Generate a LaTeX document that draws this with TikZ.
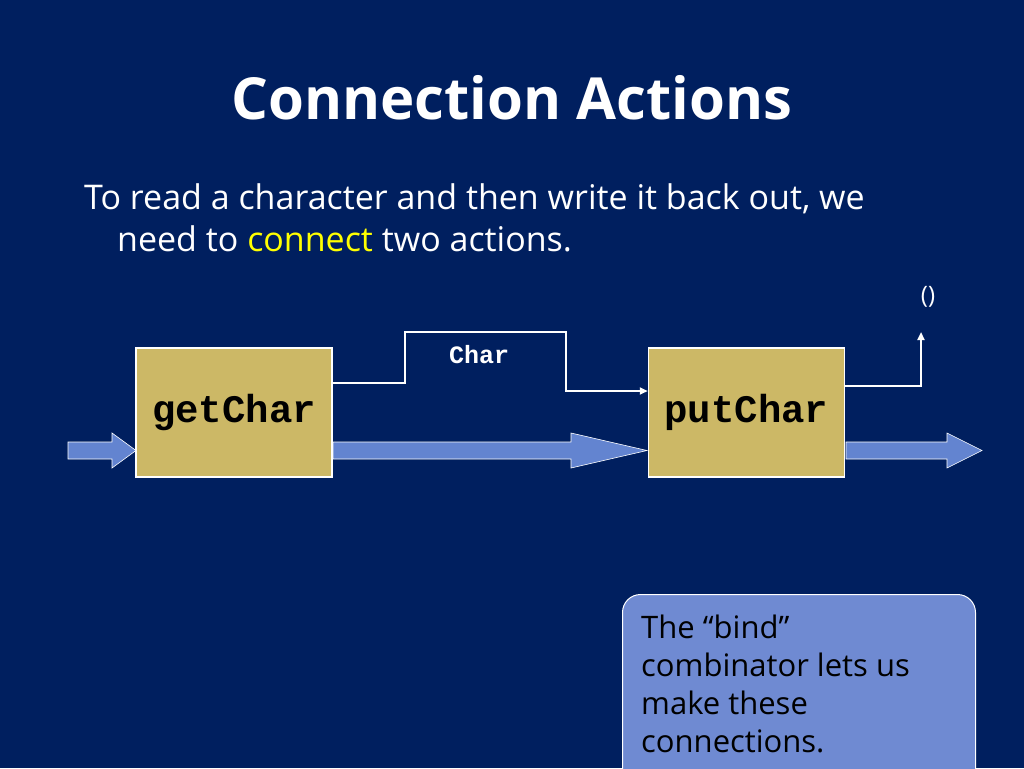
\documentclass[tikz,border=0pt]{standalone}
\usepackage{fontspec}
\setmainfont{Open Sans}
\newfontfamily\monob{Liberation Mono}
\usetikzlibrary{arrows.meta}
\definecolor{bg}{HTML}{001F5F}
\definecolor{box}{HTML}{CCB866}
\definecolor{fat}{HTML}{6384D0}
\definecolor{call}{HTML}{6F8AD2}
\definecolor{hl}{HTML}{FFFF00}
\begin{document}
\begin{tikzpicture}[x=1pt,y=-1pt,
  act/.style={draw=white,line width=1.5pt,fill=box,minimum width=196pt,minimum height=129pt,inner sep=0pt,font=\monob\bfseries\fontsize{39}{44}\selectfont},
  thin/.style={draw=white,line width=2pt,-{Triangle[length=8pt,width=7pt]}},
  fatarrow/.style={fill=fat,draw=white,line width=0.6pt}]
\useasboundingbox (0,0) rectangle (1024,768);
\fill[bg] (0,0) rectangle (1024,768);
\node[text=white,font=\bfseries\fontsize{58}{64}\selectfont] (title) at (512,98) {Connection Actions};
\node[text=white,anchor=base west,align=left,font=\fontsize{34}{42}\selectfont,inner sep=0pt] (para) at (84,251)
 {To read a character and then write it back out, we\\\hspace*{33pt}need to \textcolor{hl}{connect} two actions.};
\node[act] (g) at (234,412.5) {getChar};
\node[act] (p) at (746.5,412.5) {putChar};
% fat arrows
\path[fatarrow] (68,442) -- (112,442) -- (112,433) -- (136,450.5) -- (112,468) -- (112,459) -- (68,459) -- cycle;
\path[fatarrow] (333,442) -- (571,442) -- (571,433) -- (647,450.5) -- (571,468) -- (571,459) -- (333,459) -- cycle;
\path[fatarrow] (846,442) -- (947,442) -- (947,433) -- (982,450.5) -- (947,468) -- (947,459) -- (846,459) -- cycle;
\coordinate (c1) at (405,383);
\coordinate (c2) at (566,391);
\draw[thin] (g.east |- c1) -- (c1) -- (405,332) -- (566,332) -- (c2) -- (p.west |- c2);
\node[text=white,font=\monob\bfseries\fontsize{25}{28}\selectfont] (char) at (479,355) {Char};
\coordinate (o1) at (921,386);
\node[text=white,font=\fontsize{24}{28}\selectfont] (unit) at (928,297) {()};
\draw[thin] (p.east |- o1) -- (o1) -- (921,332);
\node[draw=white,line width=1pt,fill=call,rounded corners=18pt,minimum width=353pt,minimum height=200pt,anchor=north west,inner sep=0pt] (cb) at (622,594) {};
\node[anchor=base west,align=left,font=\fontsize{31}{37.7}\selectfont,inner sep=0pt] (ct) at (641,752)
 {The “bind”\\combinator lets us\\make these\\connections.};
\end{tikzpicture}
\end{document}
